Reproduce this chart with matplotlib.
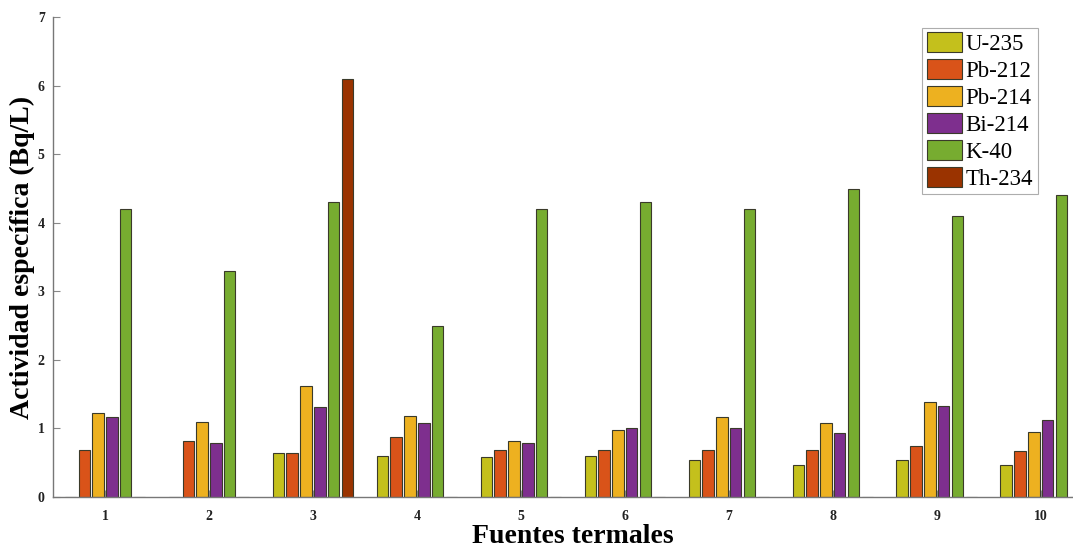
import numpy as np
import matplotlib.pyplot as plt

fuentes = ['1', '2', '3', '4', '5', '6', '7', '8', '9', '10']
isotopos = ['U-235', 'Pb-212', 'Pb-214', 'Bi-214', 'K-40', 'Th-234']

# Actividad específica (Bq/L) por fuente termal
u235 = [0, 0, 0.64, 0.60, 0.58, 0.60, 0.54, 0.47, 0.54, 0.47]
pb212 = [0.68, 0.82, 0.64, 0.87, 0.68, 0.69, 0.69, 0.68, 0.74, 0.67]
pb214 = [1.23, 1.09, 1.62, 1.18, 0.81, 0.98, 1.17, 1.08, 1.38, 0.95]
bi214 = [1.16, 0.79, 1.32, 1.08, 0.79, 1.01, 1.01, 0.93, 1.33, 1.13]
k40 = [4.2, 3.3, 4.3, 2.5, 4.2, 4.3, 4.2, 4.5, 4.1, 4.4]
th234 = [0, 0, 6.1, 0, 0, 0, 0, 0, 0, 0]

series = [u235, pb212, pb214, bi214, k40, th234]
colores = ['#c4c01c', '#d95319', '#edb120', '#7e2f8e', '#77ac30', '#9a3300']

plt.rcParams['font.family'] = ['Liberation Serif', 'DejaVu Serif']

fig = plt.figure(figsize=(10.73, 5.49), dpi=100)
ax = fig.add_axes([0.0494, 0.0947, 0.969, 0.874])

x = np.arange(1, len(fuentes) + 1)
paso = 0.133
ancho = 0.11
for i, (vals, col, nombre) in enumerate(zip(series, colores, isotopos)):
    ax.bar(x + (i - 2.5) * paso, vals, width=ancho, color=col,
           edgecolor='#3a3a2a', linewidth=0.8, label=nombre)

ax.set_xlim(0.5, 10.5)
ax.set_ylim(0, 7)
ax.set_xticks(x)
ax.set_xticklabels(fuentes)
ax.set_yticks(range(0, 8))

for s in ['top', 'right']:
    ax.spines[s].set_visible(False)
for s in ['left', 'bottom']:
    ax.spines[s].set_color('#777777')
    ax.spines[s].set_linewidth(1.0)

ax.tick_params(direction='in', length=5, color='#888888', width=0.8,
               labelsize=10)
ax.tick_params(axis='x', pad=9)
ax.tick_params(axis='y', pad=6)
for lbl in ax.get_xticklabels() + ax.get_yticklabels():
    lbl.set_fontweight('bold')
    lbl.set_color('#222222')

ax.set_ylabel('Actividad específica (Bq/L)', fontsize=20, fontweight='bold')
ax.yaxis.set_label_coords(-0.0175, 0.5)
ax.set_xlabel('Fuentes termales', fontsize=20, fontweight='bold', labelpad=1)

leg = ax.legend(loc='upper left', bbox_to_anchor=(0.836, 0.978), fontsize=16.5,
                frameon=True, fancybox=False, edgecolor='#999999',
                handlelength=1.55, handleheight=0.95, handletextpad=0.15,
                labelspacing=0.18, borderpad=0.2, borderaxespad=0)
leg.get_frame().set_linewidth(0.8)

fig.savefig('out.png', dpi=100)
